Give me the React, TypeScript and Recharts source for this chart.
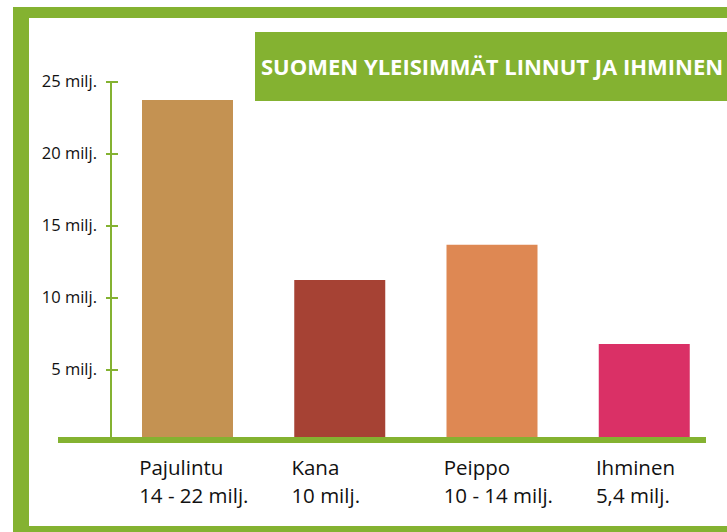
import { BarChart, Bar, XAxis, YAxis, Cell } from "recharts";

// Lajit ja määrät (miljoonaa)
const categories = ["Pajulintu", "Kana", "Peippo", "Ihminen"];
const amounts = ["14 - 22 milj.", "10 milj.", "10 - 14 milj.", "5,4 milj."];
const values = [23.75, 11.25, 13.7, 6.8];
const yTicks = [5, 10, 15, 20, 25];

const BAR_COLORS = ["#C49252", "#A64234", "#DE8853", "#DA3066"];
const GREEN = "#84B231";
const FONT = "'Open Sans', sans-serif";

const data = categories.map((name, i) => ({
  name,
  amount: amounts[i],
  value: values[i],
}));

const XTick = (props: any) => {
  const { x, y, index } = props;
  return (
    <g>
      <text x={x - 48} y={y + 24.5} fontSize={20.5} fontFamily={FONT} fill="#111">
        {categories[index]}
      </text>
      <text x={x - 48} y={y + 52.5} fontSize={20.5} fontFamily={FONT} fill="#111">
        {amounts[index]}
      </text>
    </g>
  );
};

const YTick = (props: any) => {
  const { x, y, payload } = props;
  return (
    <g>
      <line x1={x - 5} x2={x + 7} y1={y} y2={y} stroke={GREEN} strokeWidth={2} />
      <text
        x={x - 14}
        y={y}
        dy={5}
        textAnchor="end"
        fontSize={16.5}
        fontFamily={FONT}
        fill="#111"
      >
        {`${payload.value} milj.`}
      </text>
    </g>
  );
};

export default function App() {
  return (
    <div
      style={{
        position: "absolute",
        left: 0,
        top: 0,
        width: 727,
        height: 532,
        overflow: "hidden",
        background: "#fff",
      }}
    >
      {/* vihreä kehys */}
      <div
        style={{
          position: "absolute",
          left: 13,
          top: 7,
          width: 740,
          height: 532,
          borderLeft: `16px solid ${GREEN}`,
          borderTop: `11px solid ${GREEN}`,
          borderBottom: `13px solid ${GREEN}`,
          boxSizing: "border-box",
        }}
      />
      <div style={{ position: "absolute", left: 0, top: 0 }}>
        <BarChart
          width={727}
          height={532}
          data={data}
          margin={{ top: 82, right: 7, bottom: 60, left: 0 }}
        >
          <XAxis
            dataKey="name"
            height={30}
            axisLine={false}
            tickLine={false}
            tick={<XTick />}
            interval={0}
          />
          <YAxis
            width={111}
            domain={[0, 25]}
            ticks={yTicks}
            axisLine={{ stroke: GREEN, strokeWidth: 2 }}
            tickLine={false}
            tickSize={0}
            tickMargin={0}
            tick={<YTick />}
            interval={0}
          />
          <Bar dataKey="value" barSize={91} isAnimationActive={false}>
            {data.map((_, i) => (
              <Cell key={`cell-${i}`} fill={BAR_COLORS[i]} />
            ))}
          </Bar>
        </BarChart>
      </div>
      {/* perusviiva */}
      <div
        style={{
          position: "absolute",
          left: 58,
          top: 437,
          width: 648,
          height: 6,
          background: GREEN,
        }}
      />
      {/* otsikko */}
      <div
        style={{
          position: "absolute",
          left: 255,
          top: 32,
          width: 472,
          height: 69,
          background: GREEN,
          color: "#fff",
          fontFamily: FONT,
          fontWeight: 700,
          fontSize: 22,
          lineHeight: "69px",
          paddingLeft: 6,
          boxSizing: "border-box",
          whiteSpace: "nowrap",
          overflow: "hidden",
        }}
      >
        SUOMEN YLEISIMMÄT LINNUT JA IHMINEN
      </div>
    </div>
  );
}
